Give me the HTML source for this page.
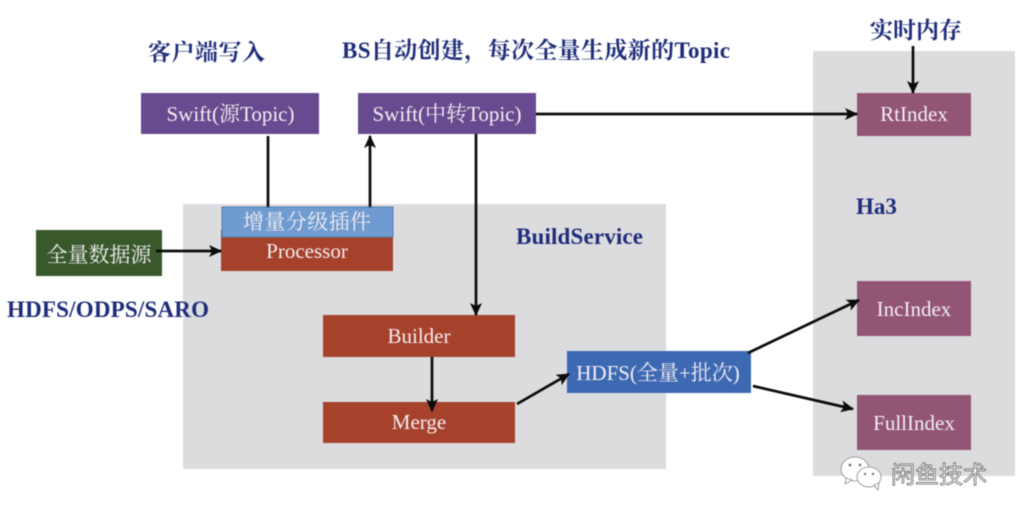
<!DOCTYPE html>
<html><head><meta charset="utf-8"><style>
html,body{margin:0;padding:0;background:#fff}
svg{display:block;filter:blur(.4px)}
text{font-family:"Liberation Serif","Noto Serif CJK SC",serif;text-anchor:middle}
.w{fill:#f4eef2;font-size:21px}
.t{fill:#1f2d7a;font-weight:bold;text-anchor:start;font-size:23px}
.l{stroke:#0b0b0b;stroke-width:2.7;fill:none}
</style></head><body>
<svg width="1022" height="520" viewBox="0 0 1022 520" xmlns="http://www.w3.org/2000/svg">
<defs><marker id="a" markerWidth="14" markerHeight="12" refX="12" refY="6" orient="auto" markerUnits="userSpaceOnUse"><path d="M0 0L13 6L0 12L3 6Z" fill="#0b0b0b"/></marker></defs>
<rect width="1022" height="520" fill="#fff"/>
<rect x="183" y="204" width="483" height="265" fill="#dcdcdf"/>
<rect x="813" y="51" width="202" height="425" fill="#dcdcdf"/>

<rect x="141" y="93" width="178" height="41" fill="#674a8f"/>
<rect x="358" y="93" width="178" height="41" fill="#674a8f"/>
<rect x="857" y="93" width="114" height="43" fill="#925574"/>
<rect x="857" y="281" width="114" height="55" fill="#925574"/>
<rect x="857" y="395" width="114" height="55" fill="#925574"/>
<rect x="36" y="230" width="126" height="46" fill="#39592c"/>
<rect x="221" y="230" width="172" height="41" fill="#a6412b"/>
<rect x="222" y="207" width="171" height="30" fill="#6f9bd0" stroke="#4f7fb0" stroke-width="1"/>
<rect x="323" y="315" width="192" height="42" fill="#a6412b"/>
<rect x="323" y="402" width="192" height="41" fill="#a6412b"/>
<rect x="567" y="351" width="184" height="42" fill="#3d69b3"/>

<path class="l" d="M268 136V207"/>
<path class="l" d="M370 207V136" marker-end="url(#a)"/>
<path class="l" d="M476 134V315" marker-end="url(#a)"/>
<path class="l" d="M536 114H857" marker-end="url(#a)"/>
<path class="l" d="M913 46V93" marker-end="url(#a)"/>
<path class="l" d="M156 251H221" marker-end="url(#a)"/>
<path class="l" d="M432 357V411" marker-end="url(#a)"/>
<path class="l" d="M517 404L569 374" marker-end="url(#a)"/>
<path class="l" d="M748 353L859 300" marker-end="url(#a)"/>
<path class="l" d="M753 386L853 409" marker-end="url(#a)"/>

<text class="w" x="230.500" y="121">Swift(源Topic)</text>
<text class="w" x="447" y="121">Swift(中转Topic)</text>
<text class="w" x="914" y="121">RtIndex</text>
<text class="w" x="914" y="316">IncIndex</text>
<text class="w" x="914" y="430">FullIndex</text>
<text class="w" x="99" y="262">全量数据源</text>
<text class="w" x="307" y="229" textLength="128">增量分级插件</text>
<text class="w" x="307" y="258">Processor</text>
<text class="w" x="419" y="343">Builder</text>
<text class="w" x="419" y="429">Merge</text>
<text class="w" x="658" y="380">HDFS(全量+批次)</text>

<text class="t" x="148" y="60" textLength="117">客户端写入</text>
<text class="t" x="342" y="58" textLength="388">BS自动创建，每次全量生成新的Topic</text>
<text class="t" x="870" y="38" textLength="92">实时内存</text>
<text class="t" x="516" y="244" textLength="127">BuildService</text>
<text class="t" x="856" y="214">Ha3</text>
<text class="t" x="7" y="317" textLength="202">HDFS/ODPS/SARO</text>

<g fill="#fff" stroke="#8a8a8a" stroke-width=".8">
<ellipse cx="855" cy="469" rx="14" ry="12"/>
<path d="M846 478L845 484L852 480Z"/>
<ellipse cx="869" cy="477" rx="12" ry="10"/>
<path d="M874 485L878 490L879 483Z"/>
</g>
<g fill="#777"><circle cx="850" cy="465" r="1.400"/><circle cx="860" cy="465" r="1.400"/><circle cx="865" cy="474" r="1.200"/><circle cx="873" cy="474" r="1.200"/></g>
<text x="939" y="483" style="font-size:24px;font-family:'Liberation Sans','Noto Sans CJK SC',sans-serif" fill="#fff" stroke="#555" stroke-width=".7">闲鱼技术</text>
</svg>
</body></html>
